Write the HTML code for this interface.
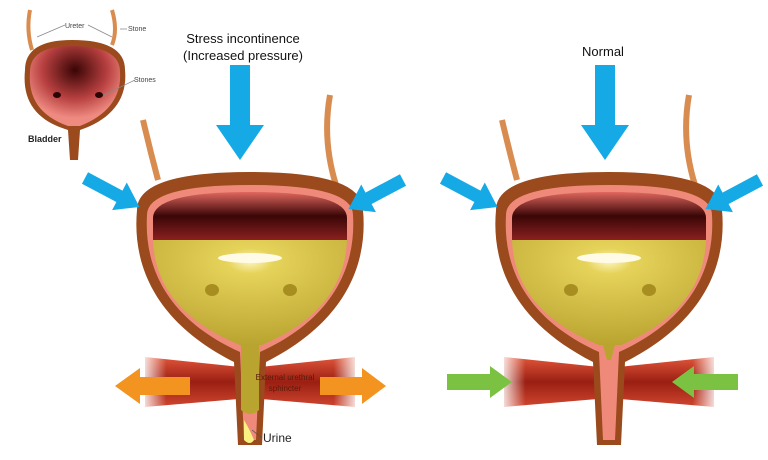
<!DOCTYPE html>
<html><head><style>body{margin:0;background:#fff}svg{display:block}text{font-family:"Liberation Sans",sans-serif}</style></head><body>
<svg width="768" height="460" viewBox="0 0 768 460" xmlns="http://www.w3.org/2000/svg">
<defs>
<linearGradient id="dark" x1="0" y1="0" x2="0" y2="1"><stop offset="0" stop-color="#e0675f"/><stop offset="0.5" stop-color="#3a0606"/><stop offset="1" stop-color="#8a2020"/></linearGradient>
<radialGradient id="yel" cx="0.5" cy="0.2" r="0.8"><stop offset="0" stop-color="#fff6c0"/><stop offset="0.15" stop-color="#e6d35a"/><stop offset="1" stop-color="#b9a430"/></radialGradient>
<linearGradient id="mus" x1="0" y1="0" x2="0" y2="1"><stop offset="0" stop-color="#e0553a"/><stop offset="0.5" stop-color="#9a1f12"/><stop offset="1" stop-color="#d04630"/></linearGradient>
<linearGradient id="fade" x1="0" y1="0" x2="1" y2="0"><stop offset="0" stop-color="#fff" stop-opacity="1"/><stop offset="0.12" stop-color="#fff" stop-opacity="0"/><stop offset="0.88" stop-color="#fff" stop-opacity="0"/><stop offset="1" stop-color="#fff" stop-opacity="1"/></linearGradient>
<radialGradient id="inset" cx="0.5" cy="0.3" r="0.6"><stop offset="0" stop-color="#3a0505"/><stop offset="0.6" stop-color="#b84040"/><stop offset="1" stop-color="#ee8a80"/></radialGradient>
<g id="bl">
<path d="M143,120 Q150,150 158,180" stroke="#d98c50" stroke-width="6" fill="none"/>
<path d="M330,95 Q322,140 336,185" stroke="#d98c50" stroke-width="6" fill="none"/>
<path d="M145,357 L250,368 L355,357 L355,407 L250,398 L145,407 Z" fill="url(#mus)"/>
<rect x="140" y="355" width="220" height="55" fill="url(#fade)"/>
<path d="M137,210 Q137,172 250,172 Q363,172 363,210 C368,265 345,322 266,362 L262,445 L238,445 L234,362 C155,322 132,265 137,210 Z" fill="#9a4a1c"/>
<path d="M147,215 Q147,185 250,185 Q353,185 353,215 C356,265 335,318 260,352 L256,440 L244,440 L240,352 C165,318 144,265 147,215 Z" fill="#ef8a7a"/>
<path d="M153,218 Q153,192 250,192 Q347,192 347,218 L347,240 L153,240 Z" fill="url(#dark)"/>
<path d="M153,240 L347,240 C345,285 320,320 262,345 L240,345 C180,320 155,285 153,240 Z" fill="url(#yel)"/>
<ellipse cx="250" cy="258" rx="32" ry="5" fill="#fffbe6"/>
<ellipse cx="212" cy="290" rx="7" ry="6" fill="#a88e20"/><ellipse cx="290" cy="290" rx="7" ry="6" fill="#a88e20"/>
</g>
<g id="ar"><path d="M-10,0 L10,0 L10,60 L24,60 L0,95 L-24,60 L-10,60 Z" fill="#15a9e6"/></g>
</defs>
<use href="#bl"/>
<path d="M241,345 L259,345 L259,410 Q250,418 241,410 Z" fill="#b9a430"/>
<path d="M244,420 Q250,430 254,440 Q250,446 244,440 Z" fill="#f8f080"/>
<use href="#bl" transform="translate(359,0)"/>
<path d="M603,345 L615,345 L611,360 L607,360 Z" fill="#b9a430"/>
<use href="#ar" transform="translate(240,65)"/>
<use href="#ar" transform="translate(605,65)"/>
<use href="#ar" transform="translate(85,178) rotate(-62) scale(0.65)"/>
<use href="#ar" transform="translate(403,180) rotate(62) scale(0.65)"/>
<use href="#ar" transform="translate(443,178) rotate(-62) scale(0.65)"/>
<use href="#ar" transform="translate(760,180) rotate(62) scale(0.65)"/>
<path d="M190,377 L140,377 L140,368 L115,386 L140,404 L140,395 L190,395 Z" fill="#f39320"/>
<path d="M320,377 L362,377 L362,368 L386,386 L362,404 L362,395 L320,395 Z" fill="#f39320"/>
<path d="M447,374 L490,374 L490,366 L512,382 L490,398 L490,390 L447,390 Z" fill="#7cc242"/>
<path d="M738,374 L694,374 L694,366 L672,382 L694,398 L694,390 L738,390 Z" fill="#7cc242"/>
<text x="285" y="380" font-size="8" fill="#5a1a0a" text-anchor="middle">External urethral</text>
<text x="285" y="391" font-size="8" fill="#5a1a0a" text-anchor="middle">sphincter</text>
<line x1="252" y1="430" x2="262" y2="438" stroke="#555" stroke-width="0.8"/>
<text x="263" y="442" font-size="12" fill="#222">Urine</text>
<text x="243" y="43" font-size="13" fill="#111" text-anchor="middle">Stress incontinence</text>
<text x="243" y="60" font-size="13" fill="#111" text-anchor="middle">(Increased pressure)</text>
<text x="603" y="56" font-size="13" fill="#111" text-anchor="middle">Normal</text>
<path d="M30,10 Q26,30 32,50" stroke="#d98c50" stroke-width="4" fill="none"/>
<path d="M112,10 Q118,30 112,45" stroke="#d98c50" stroke-width="4" fill="none"/>
<path d="M25,70 Q25,40 72,40 Q125,40 125,70 C128,100 110,120 80,130 L78,160 L70,160 L68,130 C35,120 22,100 25,70 Z" fill="#9a4a1c"/>
<path d="M30,72 Q30,46 72,46 Q120,46 120,72 C122,98 106,116 80,126 L68,126 C40,116 28,98 30,72 Z" fill="url(#inset)"/>
<ellipse cx="57" cy="95" rx="4" ry="3" fill="#2a0505"/><ellipse cx="99" cy="95" rx="4" ry="3" fill="#2a0505"/>
<path d="M37,37 L65,25 M88,25 L112,37 M120,29 L127,29 M104,95 L135,80" stroke="#888" stroke-width="0.7"/>
<text x="65" y="28" font-size="7" fill="#444">Ureter</text>
<text x="128" y="31" font-size="7" fill="#444">Stone</text>
<text x="134" y="82" font-size="7" fill="#444">Stones</text>
<text x="28" y="142" font-size="9" font-weight="bold" fill="#222">Bladder</text>
</svg>
</body></html>
